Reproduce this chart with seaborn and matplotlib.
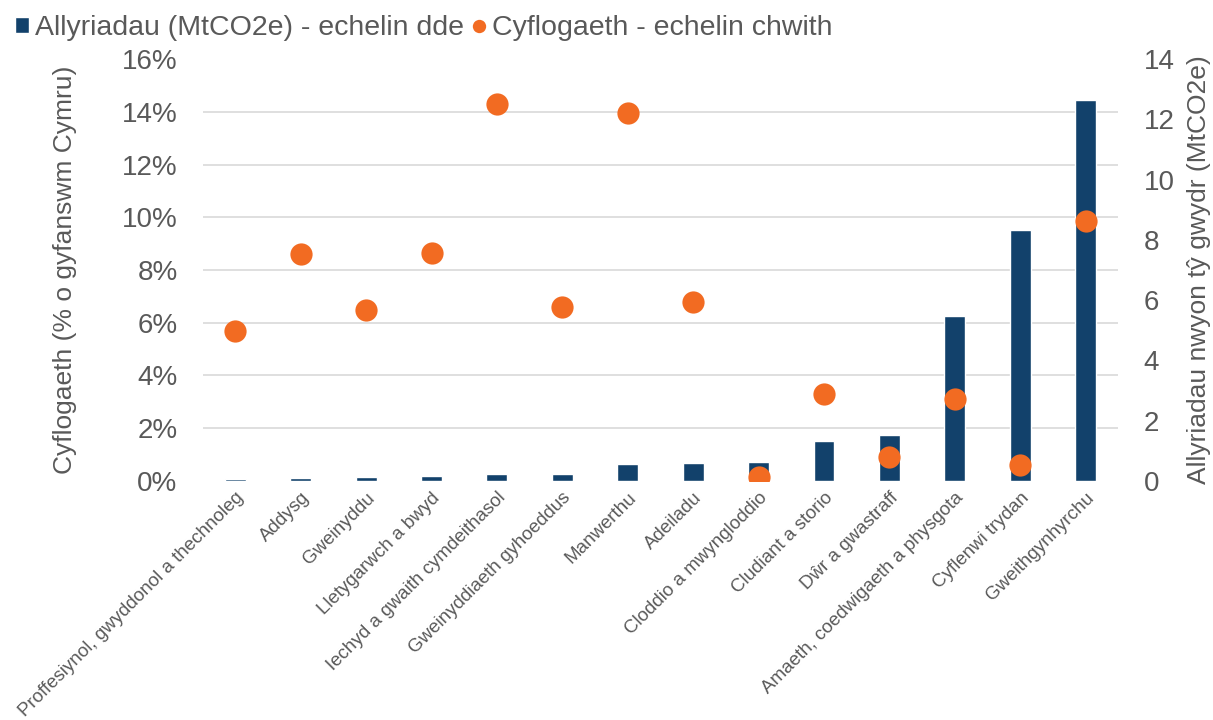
import numpy as np
import pandas as pd
import matplotlib
matplotlib.use('Agg')
import matplotlib.pyplot as plt
import seaborn as sns
from matplotlib.ticker import FuncFormatter

sectors = ['Proffesiynol, gwyddonol a thechnoleg', 'Addysg', 'Gweinyddu',
           'Lletygarwch a bwyd', 'Iechyd a gwaith cymdeithasol',
           'Gweinyddiaeth gyhoeddus', 'Manwerthu', 'Adeiladu',
           'Cloddio a mwyngloddio', 'Cludiant a storio', 'Dŵr a gwastraff',
           'Amaeth, coedwigaeth a physgota', 'Cyflenwi trydan', 'Gweithgynhyrchu']
emissions = [0.07, 0.1, 0.14, 0.17, 0.22, 0.23, 0.55, 0.61, 0.62, 1.34, 1.54, 5.47, 8.33, 12.64]
employment = [5.7, 8.6, 6.5, 8.65, 14.3, 6.6, 13.95, 6.8, 0.15, 3.3, 0.9, 3.1, 0.6, 9.85]

df = pd.DataFrame({'sector': sectors, 'emissions': emissions, 'employment': employment})

bar_color = '#12416B'
dot_color = '#F26B22'
text_color = '#595959'

sns.set_style('white')
plt.rcParams['font.family'] = ['Liberation Sans', 'DejaVu Sans']

fig = plt.figure(figsize=(12.13, 7.2), dpi=100)
ax = fig.add_axes([0.167, 0.332, 0.755, 0.586])

sns.pointplot(data=df, x='sector', y='employment', ax=ax, color=dot_color,
              linestyle='none', markers='o', markersize=16, markeredgewidth=0,
              errorbar=None, label='Cyflogaeth - echelin chwith')

ax2 = ax.twinx()
sns.barplot(data=df, x='sector', y='emissions', ax=ax2, color=bar_color,
            width=0.32, saturation=1, label='Allyriadau (MtCO2e) - echelin dde')

ax.set_zorder(ax2.get_zorder() + 1)
ax.patch.set_visible(False)

ax.set_ylim(0, 16)
ax.set_yticks(np.arange(0, 17, 2))
ax.yaxis.set_major_formatter(FuncFormatter(lambda v, p: f'{v:.0f}%'))
ax2.set_ylim(0, 14)
ax2.set_yticks(np.arange(0, 15, 2))
ax.set_xlim(-0.5, len(sectors) - 0.5)

# gridlines behind the bars, matching the left axis ticks
ax2.set_yticks(np.linspace(0, 14, 9), minor=True)
ax2.grid(which='minor', axis='y', color='#D9D9D9', linewidth=1.2)
ax2.set_axisbelow(True)
ax.grid(False)

ax.set_xticks(range(len(sectors)))
ax.set_xticklabels(sectors, rotation=45, ha='right', rotation_mode='anchor',
                   fontsize=13.5, color=text_color)
ax.set_xlabel('')
ax.set_ylabel('Cyflogaeth (% o gyfanswm Cymru)', fontsize=19, color=text_color, labelpad=32)
ax2.set_ylabel('Allyriadau nwyon tŷ gwydr (MtCO2e)', fontsize=19, color=text_color, labelpad=9)
ax.tick_params(axis='y', labelsize=20, labelcolor=text_color, length=0, pad=18)
ax.tick_params(axis='x', length=0, pad=6)
ax2.tick_params(axis='y', which='both', labelsize=20, labelcolor=text_color, length=0, pad=18)

for a in (ax, ax2):
    for s in a.spines.values():
        s.set_visible(False)

h1, l1 = ax2.get_legend_handles_labels()
h2, l2 = ax.get_legend_handles_labels()
fig.legend(h1 + h2, l1 + l2, loc='upper left', bbox_to_anchor=(-0.009, 1.015), ncol=2,
           frameon=False, fontsize=20.5, labelcolor=text_color, handlelength=0.5,
           handleheight=0.5, handletextpad=0.2, columnspacing=0.3, markerscale=0.6)
if ax.get_legend() is not None:
    ax.get_legend().remove()
if ax2.get_legend() is not None:
    ax2.get_legend().remove()

fig.savefig('out.png', dpi=100)
